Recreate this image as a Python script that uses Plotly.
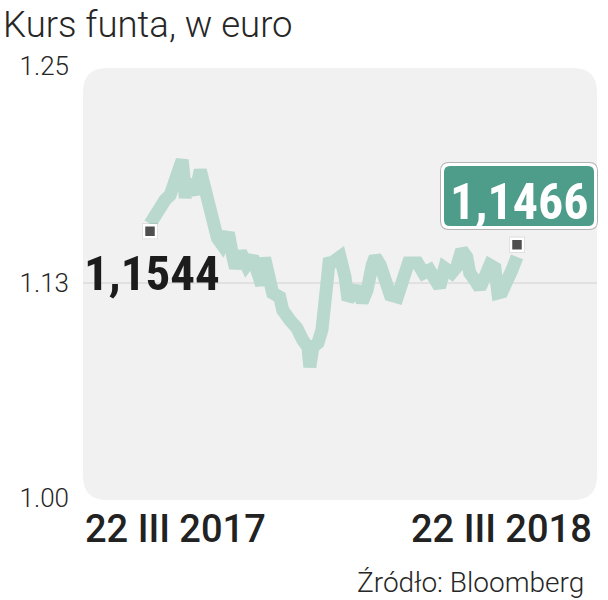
import pandas as pd
import plotly.graph_objects as go

# ---------------- data ----------------
start_date = "2017-03-22"
day_offsets = [0, 5, 10, 15, 20, 23, 27, 32, 34, 35, 37, 42, 45, 50, 53, 58, 62, 67, 72, 78,
               82, 85, 90, 96, 102, 107, 111, 114, 119, 122, 129, 132, 139, 146, 152, 157, 159,
               162, 167, 171, 176, 178, 182, 189, 194, 197, 202, 206, 211, 216, 221, 224, 229,
               234, 239, 246, 252, 257, 266, 272, 278, 285, 288, 293, 300, 305, 310, 315, 318,
               325, 328, 333, 338, 343, 346, 350, 355, 360, 365]
gbp_eur = [1.1586, 1.1638, 1.1696, 1.1725, 1.1753, 1.1811, 1.1910, 1.1956, 1.1840, 1.1736,
           1.1829, 1.1794, 1.1759, 1.1898, 1.1829, 1.1696, 1.1580, 1.1505, 1.1464, 1.1534,
           1.1406, 1.1331, 1.1424, 1.1348, 1.1395, 1.1308, 1.1233, 1.1389, 1.1244, 1.1186,
           1.1163, 1.1088, 1.1030, 1.0984, 1.0914, 1.0874, 1.0758, 1.0874, 1.0897, 1.0972,
           1.1244, 1.1360, 1.1366, 1.1395, 1.1279, 1.1146, 1.1186, 1.1221, 1.1134, 1.1204,
           1.1348, 1.1395, 1.1348, 1.1262, 1.1175, 1.1163, 1.1302, 1.1360, 1.1360, 1.1302,
           1.1319, 1.1262, 1.1221, 1.1331, 1.1302, 1.1337, 1.1435, 1.1395, 1.1302, 1.1244,
           1.1215, 1.1279, 1.1348, 1.1331, 1.1186, 1.1192, 1.1244, 1.1319, 1.1395]
end_labels = ["1,1544", "1,1466"]
end_values = [1.1544, 1.1466]
end_offsets = [0, 365]
y_tick_vals = [1.00, 1.1244, 1.25]
y_tick_text = ["1.00", "1.13", "1.25"]
x_labels = ["22 III 2017", "22 III 2018"]
title_text = "Kurs funta, w euro"
source_text = "Źródło: Bloomberg"

# ---------------- layout geometry ----------------
W, H = 608, 600
L, R, T, B = 83, 597, 60, 502          # plot area in pixels


def px_x(px):
    return (px - L) / (R - L)


def px_y(py):
    return (B - py) / (B - T)


def rrect(x0, y0, x1, y1, r):
    rx = r / (R - L)
    ry = r / (B - T)
    a0, a1 = px_x(x0), px_x(x1)
    b0, b1 = px_y(y0), px_y(y1)   # b0 top, b1 bottom (b0 > b1)
    return (f"M {a0+rx},{b0} L {a1-rx},{b0} Q {a1},{b0} {a1},{b0-ry} "
            f"L {a1},{b1+ry} Q {a1},{b1} {a1-rx},{b1} L {a0+rx},{b1} "
            f"Q {a0},{b1} {a0},{b1+ry} L {a0},{b0-ry} Q {a0},{b0} {a0+rx},{b0} Z")


t0 = pd.Timestamp(start_date)
dates = t0 + pd.to_timedelta(day_offsets, unit="D")
end_dates = t0 + pd.to_timedelta(end_offsets, unit="D")

days_per_px = 365 / 367
x_range = [t0 - pd.Timedelta(days=(150 - L) * days_per_px),
           t0 + pd.Timedelta(days=(R - 150) * days_per_px)]
px_per_unit = 432 / 0.25
y_range = [1.0 - (B - 498) / px_per_unit, 1.0 + (498 - T) / px_per_unit]

fig = go.Figure()
fig.add_trace(go.Scatter(x=dates, y=gbp_eur, mode="lines",
                         line=dict(color="#b9d9cf", width=13), hoverinfo="skip"))
fig.add_trace(go.Scatter(x=end_dates, y=end_values, mode="markers",
                         marker=dict(symbol="square", size=16, color="rgba(0,0,0,0.10)",
                                     line=dict(width=0)), hoverinfo="skip"))
fig.add_trace(go.Scatter(x=end_dates, y=end_values, mode="markers",
                         marker=dict(symbol="square", size=12, color="#4f4f4f",
                                     line=dict(color="white", width=2.5)), hoverinfo="skip"))

shapes = [
    dict(type="path", path=rrect(L, 68, R, 500, 24), xref="paper", yref="paper",
         fillcolor="#f1f1f1", line=dict(width=0), layer="below"),
    dict(type="line", xref="paper", yref="y", x0=0, x1=1, y0=y_tick_vals[1], y1=y_tick_vals[1],
         line=dict(color="#d2d2d2", width=1), layer="below"),
    dict(type="path", path=rrect(440, 162, 598, 230, 9), xref="paper", yref="paper",
         fillcolor="#b4b4b4", line=dict(width=0), layer="above"),
    dict(type="path", path=rrect(441, 163, 597, 229, 8), xref="paper", yref="paper",
         fillcolor="white", line=dict(width=0), layer="above"),
    dict(type="path", path=rrect(444, 166, 594, 226, 6), xref="paper", yref="paper",
         fillcolor="#4e9c8a", line=dict(width=0), layer="above"),
]

light = dict(family="Roboto, sans-serif", weight=300, color="#262626")
bold_narrow = "Liberation Sans Narrow, Roboto Condensed, Liberation Sans, sans-serif"
date_font = dict(family="Roboto, sans-serif", size=38, weight=500, color="#222222")

annotations = [
    dict(text=title_text, x=px_x(1), y=px_y(24), xref="paper", yref="paper",
         xanchor="left", yanchor="middle", showarrow=False,
         font=dict(size=36.5, **light)),
    dict(text=source_text, x=px_x(586), y=px_y(582), xref="paper", yref="paper",
         xanchor="right", yanchor="middle", showarrow=False,
         font=dict(size=28, **light)),
    dict(text=x_labels[0], x=px_x(83), y=px_y(529), xref="paper", yref="paper",
         xanchor="left", yanchor="middle", showarrow=False, font=date_font),
    dict(text=x_labels[1], x=px_x(594), y=px_y(529), xref="paper", yref="paper",
         xanchor="right", yanchor="middle", showarrow=False, font=date_font),
    dict(text=end_labels[0], x=px_x(82), y=px_y(273), xref="paper", yref="paper",
         xanchor="left", yanchor="middle", showarrow=False,
         font=dict(family=bold_narrow, size=49, weight="bold", color="#1c1c1c")),
    dict(text=end_labels[1], x=px_x(519), y=px_y(202), xref="paper", yref="paper",
         xanchor="center", yanchor="middle", showarrow=False,
         font=dict(family=bold_narrow, size=50, weight="bold", color="white")),
]

fig.update_layout(
    width=W, height=H,
    margin=dict(l=L, r=W - R, t=T, b=H - B, pad=0),
    paper_bgcolor="white", plot_bgcolor="white",
    showlegend=False,
    shapes=shapes, annotations=annotations,
    xaxis=dict(range=x_range, visible=False, showgrid=False, zeroline=False),
    yaxis=dict(range=y_range, tickvals=y_tick_vals, ticktext=y_tick_text,
               showgrid=False, zeroline=False, showline=False, ticks="",
               ticklabelstandoff=13,
               tickfont=dict(size=26, **light)),
)

fig.write_html("out.html", config={"displayModeBar": False},
               post_script="document.body.style.margin='0';document.body.style.padding='0';")
